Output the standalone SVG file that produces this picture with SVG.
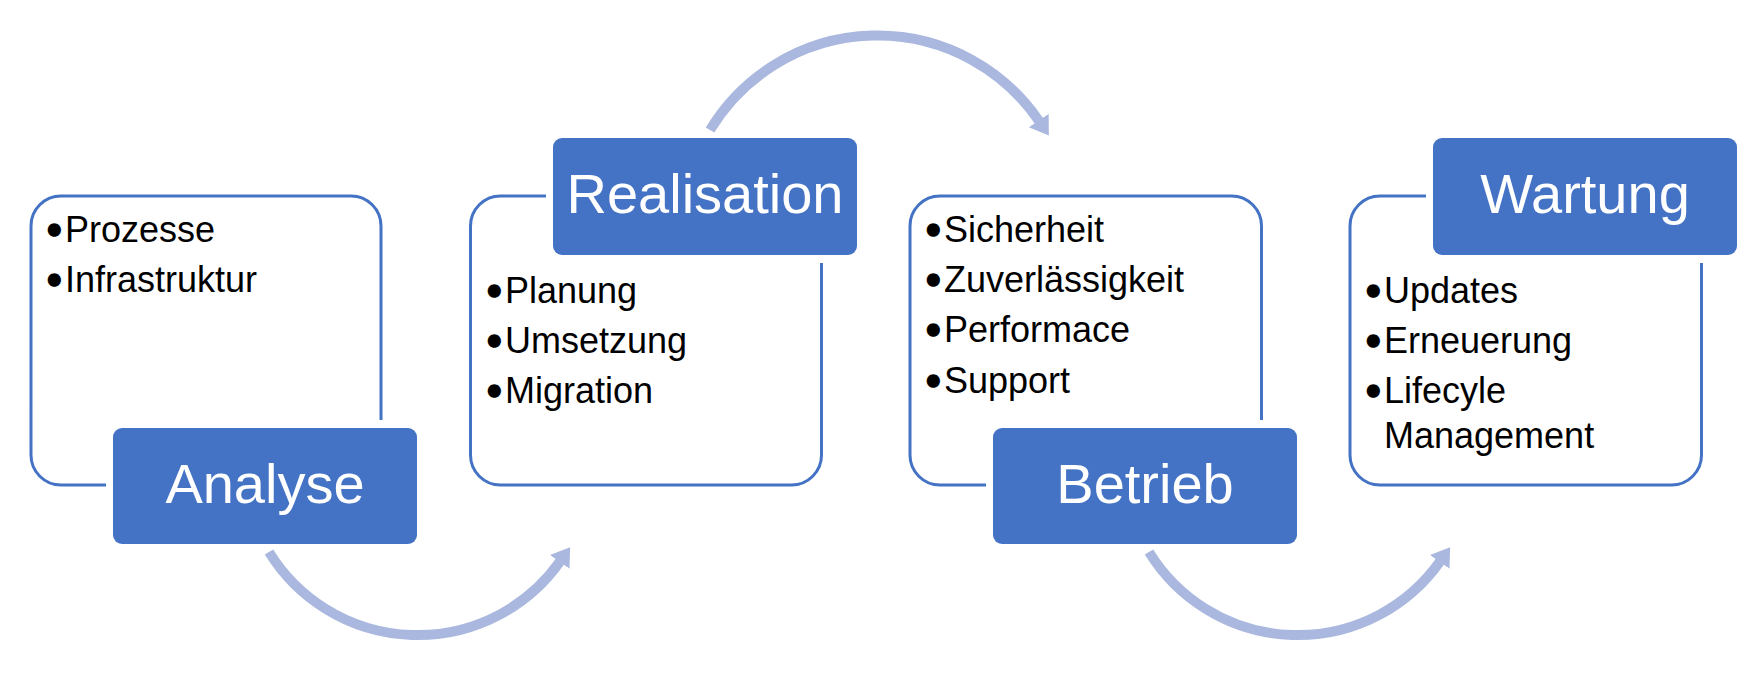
<svg xmlns="http://www.w3.org/2000/svg" width="1763" height="679" viewBox="0 0 1763 679">
  <style>
    .outline { fill: none; stroke: #4472C4; stroke-width: 3; }
    .hdr { fill: #4472C4; }
    .hdrtxt { font-family: "Liberation Sans", Arial, sans-serif; font-size: 56px; fill: #FFFFFF; text-anchor: middle; }
    .item { font-family: "Liberation Sans", Arial, sans-serif; font-size: 36px; fill: #000000; }
    .bul { stroke: #000000; stroke-width: 3.5; }
    .arc { fill: none; stroke: #AAB8DF; stroke-width: 10; stroke-linecap: butt; }
  </style>
  <defs>
    <marker id="ah" markerUnits="userSpaceOnUse" viewBox="0 0 20 26" markerWidth="20" markerHeight="26" refX="0.5" refY="13" orient="auto">
      <path d="M0,1 L18,13 L0,25 Z" fill="#AAB8DF"/>
    </marker>
  </defs>
  <rect width="1763" height="679" fill="#FFFFFF"/>

  <g id="connectors">
    <path class="arc" d="M269,552 A174.5,174.5 0 0 0 560,561.5" marker-end="url(#ah)"/>
    <path class="arc" d="M710,130 A195.5,195.5 0 0 1 1039,121" marker-end="url(#ah)"/>
    <path class="arc" d="M1149,552 A174.5,174.5 0 0 0 1440,561.5" marker-end="url(#ah)"/>
  </g>

  <g id="analyse">
    <path class="outline" d="M106,485 H61 A30,30 0 0 1 31,455 V226 A30,30 0 0 1 61,196 H351 A30,30 0 0 1 381,226 V420"/>
    <text class="item" y="242"><tspan class="bul" x="48">•</tspan><tspan x="65">Prozesse</tspan></text>
    <text class="item" y="292"><tspan class="bul" x="48">•</tspan><tspan x="65">Infrastruktur</tspan></text>
    <rect class="hdr" x="113" y="428" width="304" height="116" rx="9"/>
    <text class="hdrtxt" x="265" y="503">Analyse</text>
  </g>

  <g id="realisation">
    <path class="outline" d="M546,196 H500.5 A30,30 0 0 0 470.5,226 V455 A30,30 0 0 0 500.5,485 H791.5 A30,30 0 0 0 821.5,455 V263"/>
    <text class="item" y="303"><tspan class="bul" x="488">•</tspan><tspan x="505">Planung</tspan></text>
    <text class="item" y="353"><tspan class="bul" x="488">•</tspan><tspan x="505">Umsetzung</tspan></text>
    <text class="item" y="403"><tspan class="bul" x="488">•</tspan><tspan x="505">Migration</tspan></text>
    <rect class="hdr" x="553" y="138" width="304" height="117" rx="9"/>
    <text class="hdrtxt" x="705" y="213">Realisation</text>
  </g>

  <g id="betrieb">
    <path class="outline" d="M986,485 H940 A30,30 0 0 1 910,455 V226 A30,30 0 0 1 940,196 H1231.5 A30,30 0 0 1 1261.5,226 V420"/>
    <text class="item" y="242"><tspan class="bul" x="927">•</tspan><tspan x="944">Sicherheit</tspan></text>
    <text class="item" y="292"><tspan class="bul" x="927">•</tspan><tspan x="944">Zuverlässigkeit</tspan></text>
    <text class="item" y="342"><tspan class="bul" x="927">•</tspan><tspan x="944">Performace</tspan></text>
    <text class="item" y="393"><tspan class="bul" x="927">•</tspan><tspan x="944">Support</tspan></text>
    <rect class="hdr" x="993" y="428" width="304" height="116" rx="9"/>
    <text class="hdrtxt" x="1145" y="503">Betrieb</text>
  </g>

  <g id="wartung">
    <path class="outline" d="M1426,196 H1380 A30,30 0 0 0 1350,226 V455 A30,30 0 0 0 1380,485 H1671.5 A30,30 0 0 0 1701.5,455 V263"/>
    <text class="item" y="303"><tspan class="bul" x="1367">•</tspan><tspan x="1384">Updates</tspan></text>
    <text class="item" y="353"><tspan class="bul" x="1367">•</tspan><tspan x="1384">Erneuerung</tspan></text>
    <text class="item" y="403"><tspan class="bul" x="1367">•</tspan><tspan x="1384">Lifecyle</tspan></text>
    <text class="item" y="448"><tspan x="1384">Management</tspan></text>
    <rect class="hdr" x="1433" y="138" width="304" height="117" rx="9"/>
    <text class="hdrtxt" x="1585" y="213">Wartung</text>
  </g>
</svg>
